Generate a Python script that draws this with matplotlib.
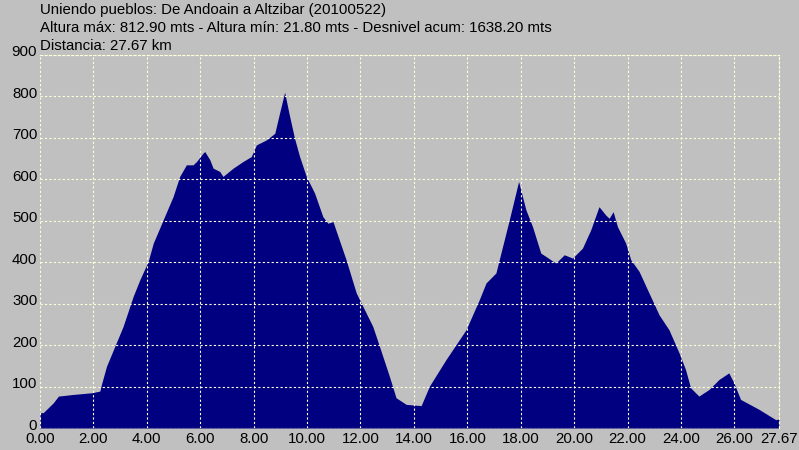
import matplotlib
matplotlib.use("Agg")
import matplotlib.pyplot as plt
from matplotlib.transforms import ScaledTranslation

# --- Datos del perfil (km, altura en m) ---
distancia = [0, 0.12, 0.31, 0.50, 0.69, 1.25, 1.93, 2.24, 2.30, 2.49, 3.11, 3.49,
             3.74, 4.05, 4.24, 4.61, 4.98, 5.23, 5.48, 5.73, 5.86, 6.10, 6.17, 6.36,
             6.48, 6.73, 6.85, 7.23, 7.60, 7.91, 8.10, 8.47, 8.79, 8.97, 9.16, 9.32,
             9.53, 9.72, 9.97, 10.28, 10.59, 10.78, 10.97, 11.46, 11.84, 12.46, 12.71,
             13.08, 13.33, 13.71, 14.27, 14.58, 15.20, 15.95, 16.45, 16.70, 17.07,
             17.32, 17.57, 17.92, 18.19, 18.44, 18.75, 18.94, 19.31, 19.63, 19.94,
             20.31, 20.62, 20.93, 21.18, 21.31, 21.46, 21.62, 21.93, 22.12, 22.43,
             22.80, 23.18, 23.55, 23.93, 24.17, 24.36, 24.67, 25.05, 25.42, 25.79,
             25.98, 26.23, 26.92, 27.55, 27.67]
altura = [37, 37, 49, 61, 77, 81, 85, 89, 105, 149, 245, 318,
          358, 402, 446, 502, 558, 607, 635, 635, 643, 663, 667, 647,
          627, 619, 607, 627, 643, 655, 683, 695, 711, 760, 810, 760,
          699, 655, 607, 567, 510, 494, 498, 406, 326, 245, 197,
          125, 73, 57, 54, 101, 165, 237, 310, 350, 374,
          438, 502, 595, 527, 486, 422, 414, 398, 418, 410,
          434, 478, 534, 514, 506, 522, 486, 446, 406, 378,
          326, 273, 237, 181, 141, 97, 77, 93, 117, 133,
          109, 69, 45, 20, 22]

x_ticks = [0, 2, 4, 6, 8, 10, 12, 14, 16, 18, 20, 22, 24, 26, 27.67]
y_ticks = [0, 100, 200, 300, 400, 500, 600, 700, 800, 900]

titulo = "Uniendo pueblos: De Andoain a Altzibar (20100522)"
resumen = "Altura máx: 812.90 mts - Altura mín: 21.80 mts - Desnivel acum: 1638.20 mts"
dist_txt = "Distancia: 27.67 km"

plt.rcParams['font.family'] = ['Liberation Sans', 'DejaVu Sans']

fondo = '#c0c0c0'
fig = plt.figure(figsize=(7.99, 4.5), dpi=100, facecolor=fondo)
ax = fig.add_axes([40 / 799, 1 - 428 / 450, 739 / 799, 373 / 450])
ax.set_facecolor(fondo)

ax.fill_between(distancia, altura, 0, color='#000080', linewidth=0, zorder=1)

ax.set_xlim(0, 27.67)
ax.set_ylim(0, 900)
ax.set_xticks(x_ticks)
ax.set_xticklabels([f"{t:.2f}" for t in x_ticks])
ax.set_yticks(y_ticks)
ax.tick_params(length=0, labelsize=10.8, colors='black', pad=2)
ax.tick_params(axis='x', pad=3)
# etiquetas del eje y un poco más arriba, como en el original
for lab in ax.get_yticklabels():
    lab.set_transform(lab.get_transform() + ScaledTranslation(0, 0.04, fig.dpi_scale_trans))
ax.grid(True, color='#ffffd8', linestyle=(0, (2, 2)), linewidth=0.8, zorder=2)
ax.set_axisbelow(False)
for s in ax.spines.values():
    s.set_color('#ffffd8')
    s.set_linestyle((0, (2, 2)))
    s.set_linewidth(0.8)
ax.spines['bottom'].set_visible(False)
ax.spines['left'].set_visible(False)

fig.text(40 / 799, 1 - 10 / 450, titulo, fontsize=10.8, va='center', ha='left')
fig.text(40 / 799, 1 - 28 / 450, resumen, fontsize=10.8, va='center', ha='left')
fig.text(40 / 799, 1 - 46 / 450, dist_txt, fontsize=10.8, va='center', ha='left')

fig.savefig("out.png", dpi=100, facecolor=fondo)
